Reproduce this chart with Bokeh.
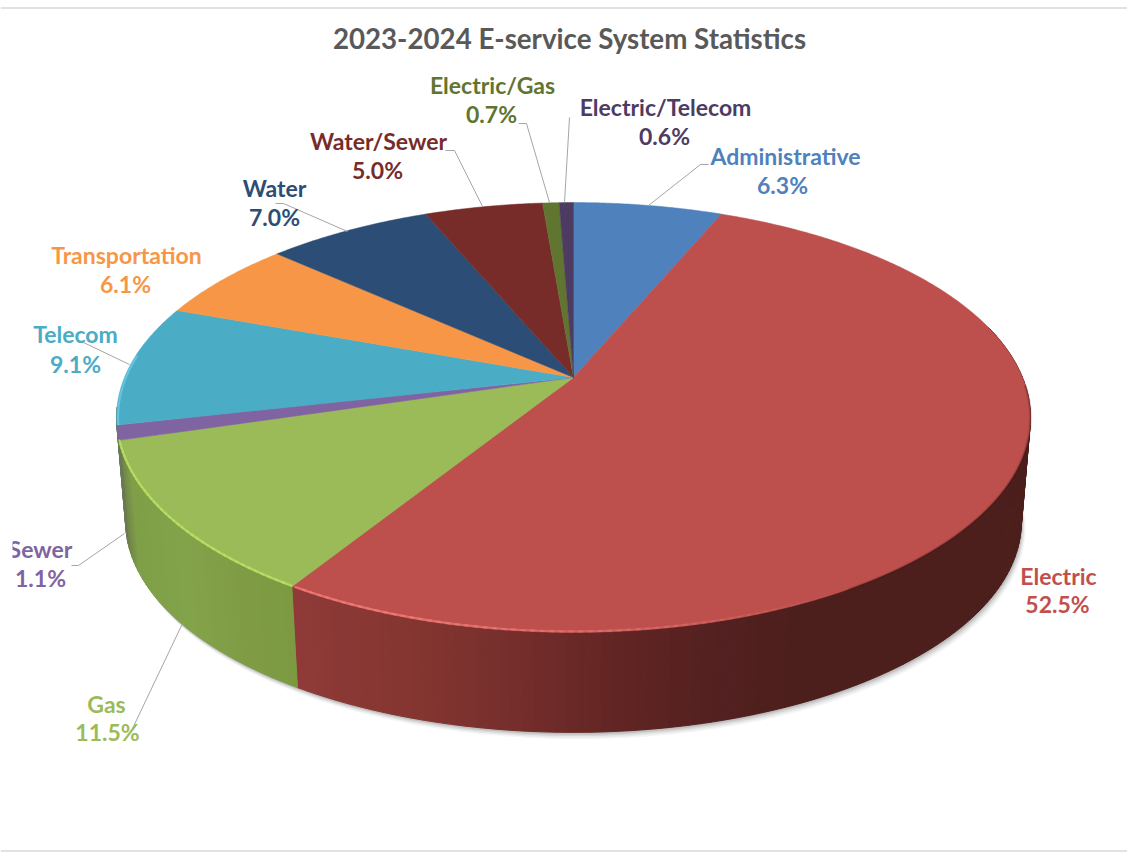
import numpy as np
from bokeh.plotting import figure
from bokeh.models import Range1d, ColumnDataSource
from bokeh.core.properties import value
from bokeh.embed import file_html
from bokeh.resources import INLINE

# ---- data -------------------------------------------------------------
title = "2023-2024 E-service System Statistics"
categories = ["Administrative", "Electric", "Gas", "Sewer", "Telecom",
              "Transportation", "Water", "Water/Sewer", "Electric/Gas", "Electric/Telecom"]
shares = [6.3, 52.5, 11.5, 1.1, 9.1, 6.1, 7.0, 5.0, 0.7, 0.6]

# ---- style / layout ---------------------------------------------------
colors = ["#4f81bd", "#bd4f4d", "#9bbb59", "#8064a2", "#4bacc6",
          "#f79646", "#2c4d75", "#772c2a", "#5f7530", "#4d3b62"]
label_x = [785, 1058, 106, 40, 75, 126, 274, 378, 492, 665]
label_y = [155, 575, 703, 548, 333, 254, 187, 140, 84, 106]
value_y = [184, 603, 731, 577, 363, 283, 216, 169, 113, 135]
value_x = [782, 1057, 107, 40, 75, 125, 274, 377, 491, 664]
leader_x = [[648, 700, 708], [], [182, 132], [124, 78, 71], [129, 83, 78], [], [347, 283, 275],
            [482, 454, 445], [549, 526, 518], [564, 569]]
leader_y = [[205, 164, 164], [], [623, 728], [533, 565, 565], [364, 342, 342], [], [231, 203, 203],
            [206, 150, 150], [202, 123, 123], [202, 117]]

W, H = 1127, 854
CX, CY = 573.0, 377.0           # apex of the pie on the page
A, B, K = 449.0, 207.5, 0.186   # perspective ellipse
DEPTH, SCALE = 105.0, 0.98      # extrusion

p = figure(width=W, height=H, output_backend="svg", toolbar_location=None,
           x_range=Range1d(0, W), y_range=Range1d(H, 0),
           min_border=0, outline_line_color=None, background_fill_color="white",
           border_fill_color="white")
p.axis.visible = False
p.grid.visible = False


def rim(theta):
    u, v = np.sin(theta), -np.cos(theta)
    w = 1 - K * v
    return A * u / w, B * v / w


def top(theta):
    x, y = rim(theta)
    return CX + x, CY + y


def bottom(theta, grow=1.0, dx=0.0, dy=0.0):
    x, y = rim(theta)
    return CX + x * SCALE * grow + dx, CY + DEPTH + y * SCALE * grow + dy


def mix(c1, c2, t):
    a = np.array([int(c1[i:i + 2], 16) for i in (1, 3, 5)], float)
    b = np.array([int(c2[i:i + 2], 16) for i in (1, 3, 5)], float)
    r = a + (b - a) * t
    return "#%02x%02x%02x" % tuple(int(round(q)) for q in r)


edges = np.radians(np.concatenate([[0], np.cumsum(shares)]) / sum(shares) * 360)

# frame rules of the page
p.multi_line([[0, W], [0, W]], [[7.5, 7.5], [850.5, 850.5]], line_color="#d9d9d9", line_width=1.5)

# drop shadow under the disc
full = np.linspace(np.radians(60), np.radians(300), 241)
for off, alpha in [(9, .05), (7, .07), (5, .10), (3, .14), (1, .2)]:
    xs, ys = bottom(full, dx=off * 0.45, dy=off * 0.75)
    p.patch(list(xs), list(ys), fill_color="#404040", fill_alpha=alpha, line_color=None)

# side wall, strip by strip
side_stops = {
    1: [(295, "#8f3a38"), (420, "#83352f"), (520, "#742e2c"), (620, "#612523"), (720, "#532020"),
        (800, "#4c1f1c"), (1030, "#4c1f1c")],
    2: [(118, "#6f7f4a"), (130, "#7f9f48"), (180, "#83a34a"), (240, "#7f9c45"), (300, "#7c9a42")],
}


def side_colour(i, x):
    stops = side_stops.get(i)
    if stops is None:
        return "#6b7a55"          # the sliver beyond the green wall
    if x <= stops[0][0]:
        return stops[0][1]
    for (x0, c0), (x1, c1) in zip(stops, stops[1:]):
        if x <= x1:
            return mix(c0, c1, (x - x0) / (x1 - x0))
    return stops[-1][1]


sx, sy, sc = [], [], []
for i in range(len(shares)):
    lo, hi = edges[i], edges[i + 1]
    n = max(2, int(np.degrees(hi - lo) / 1.2) + 1)
    t = np.linspace(lo, hi, n + 1)
    for a, b in zip(t[:-1], t[1:]):
        mid = (a + b) / 2
        if not (np.radians(75) < mid < np.radians(262)):
            continue
        x0, y0 = top(a)
        x1, y1 = top(b)
        x2, y2 = bottom(b)
        x3, y3 = bottom(a)
        sx.append([x0, x1, x2, x3])
        sy.append([y0, y1, y2, y3])
        sc.append(side_colour(i, (x0 + x1) / 2))
p.patches(sx, sy, fill_color=sc, line_color=sc, line_width=1)

# top faces
for i in range(len(shares)):
    t = np.linspace(edges[i], edges[i + 1], max(4, int(np.degrees(edges[i + 1] - edges[i]) * 2)))
    x, y = top(t)
    p.patch([CX] + list(x), [CY] + list(y), fill_color=colors[i], line_color=colors[i],
            line_width=0.5)

# soft dark edge on the right of the rim
t = np.radians(np.arange(92, 150, 1.0))
for w, alpha in [(3, .12), (1.5, .2)]:
    x, y = top(t)
    p.line(list(x), list(y + 0.5), line_color="#3a1512", line_width=w, line_alpha=alpha)

# bevel highlights
hl = [(1, "#f07a76", 150, 211.6), (2, "#b9e063", 211.8, 253.0)]
for i, col, d0, d1 in hl:
    d = np.arange(d0, d1, 1.0)
    for a, b in zip(d[:-1], d[1:]):
        mid = (a + b) / 2
        strength = np.clip((mid - 150) / 50, 0, 1) if i == 1 else 1.0
        x, y = top(np.radians(np.array([a, b + 0.5])))
        p.line(list(x), list(y - 1), line_color=col, line_width=2.2, line_alpha=0.8 * strength)
# thin cool highlight along the Telecom edge
t = np.linspace(edges[4], edges[5] - np.radians(14), 30)
x, y = top(t)
p.line(list(x + 1.5), list(y), line_color="#6fd0ea", line_width=2, line_alpha=.7)

# leader lines
lx = [a for a in leader_x if a]
ly = [a for a in leader_y if a]
p.multi_line(lx, ly, line_color="#a6a6a6", line_width=1)

# labels
text_colors = list(colors)
text_colors[1] = "#c0504d"
pct = [f"{v:.1f}%" for v in shares]
src = ColumnDataSource(dict(x=label_x + value_x, y=label_y + value_y,
                            t=categories + pct, c=text_colors + text_colors))
p.text("x", "y", text="t", source=src, text_color="c", text_align="center",
       text_baseline="middle", text_font=value("Lato"), text_font_style="bold",
       text_font_size="23px")

p.text([569], [38], text=[title], text_color="#595959", text_align="center",
       text_baseline="middle", text_font=value("Lato"), text_font_style="bold",
       text_font_size="27.7px")

# the crop that cuts the left of the first letter
p.quad(left=[0], right=[12], top=[536], bottom=[562], fill_color="white", line_color=None)

open("out.html", "w").write(file_html(p, INLINE))
